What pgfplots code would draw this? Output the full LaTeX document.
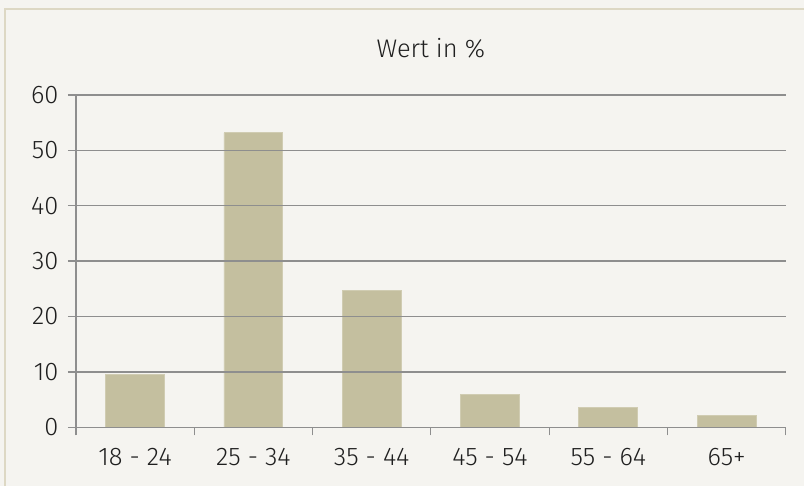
\documentclass[border=0pt]{standalone}
\usepackage{fontspec}
\setmainfont{Fira Sans Light}
\usepackage{pgfplots}
\pgfplotsset{compat=1.18}
\definecolor{bg}{HTML}{F5F4F0}
\definecolor{frame}{HTML}{DDD8C4}
\definecolor{bar}{HTML}{C4BF9F}
\definecolor{gridc}{HTML}{8E8E8E}
\begin{document}
\begin{tikzpicture}
\fill[bg] (0,0) rectangle (805bp,487bp);
\draw[frame, line width=2.5bp] (5bp,0) -- (5bp,478bp) -- (805bp,478bp);
\begin{axis}[
  at={(76bp,59bp)}, anchor=south west,
  scale only axis, width=711bp, height=333bp,
  xmin=-0.5, xmax=5.5, ymin=0, ymax=60,
  ytick={0,10,...,60},
  xtick={-0.5,0.5,...,5.5},
  x tick label as interval,
  xticklabels={18 - 24, 25 - 34, 35 - 44, 45 - 54, 55 - 64, 65+},
  tick style={gridc, line width=1.3bp},
  major tick length=8bp,
  y tick label style={xshift=-6bp},
  tick label style={font=\fontsize{25.5bp}{30bp}\selectfont, text=black!88},
  /pgf/number format/assume math mode=true,
  ymajorgrids,
  grid style={gridc, line width=1.3bp},
  axis line style={gridc, line width=1.3bp},
  axis x line=bottom, axis y line=left,
  x axis line style={-},
  y axis line style={-},
  tick align=outside,
  xtick pos=bottom, ytick pos=left,
  axis on top,
  title={Wert in \%},
  title style={font=\fontsize{25.5bp}{30bp}\selectfont, text=black!88, at={(0.5,1)}, yshift=27bp, anchor=south},
  xticklabel style={yshift=-9bp},
  clip=false,
]
\addplot[ybar, bar width=59bp, fill=bar, draw=bar!80!white, line width=0.8bp] coordinates {
(0,9.55) (1,53.15) (2,24.7) (3,5.95) (4,3.6) (5,2.15)
};
\end{axis}
\end{tikzpicture}
\end{document}
